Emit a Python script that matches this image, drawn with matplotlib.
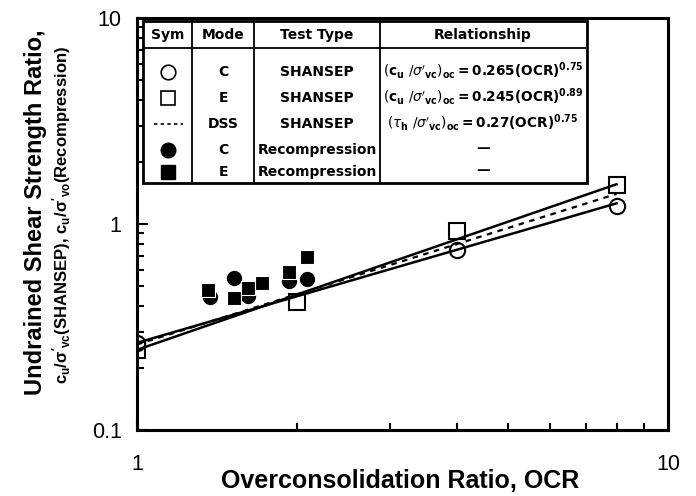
"""
Undrained shear strength ratio vs OCR (SHANSEP / Recompression)
"""
import matplotlib
matplotlib.use("Agg")
import matplotlib.pyplot as plt
from matplotlib.ticker import LogLocator, NullFormatter
from matplotlib.patches import Rectangle

plt.rcParams['font.family'] = ['Liberation Sans', 'DejaVu Sans']
plt.rcParams['mathtext.rm'] = 'Liberation Sans:bold'
plt.rcParams['mathtext.it'] = 'Liberation Sans:bold'
plt.rcParams['mathtext.bf'] = 'Liberation Sans:bold'

# SHANSEP lines (end points)
line_ocr = [1, 8]
line_c = [0.265, 1.26]
line_e = [0.245, 1.56]
line_dss = [0.26, 1.40]

# SHANSEP test points
shansep_c_ocr = [1, 4, 8]
shansep_c = [0.265, 0.748, 1.22]
shansep_e_ocr = [1, 2, 4, 8]
shansep_e = [0.245, 0.418, 0.925, 1.55]

# Recompression test points
recomp_c_ocr = [1.37, 1.52, 1.62, 1.93, 2.09]
recomp_c = [0.442, 0.547, 0.447, 0.53, 0.541]
recomp_e_ocr = [1.36, 1.52, 1.62, 1.72, 1.93, 2.09]
recomp_e = [0.479, 0.437, 0.489, 0.517, 0.585, 0.692]

# legend table rows
table_header = ['Sym', 'Mode', 'Test Type', 'Relationship']
table_mode = ['C', 'E', 'DSS', 'C', 'E']
table_type = ['SHANSEP', 'SHANSEP', 'SHANSEP', 'Recompression', 'Recompression']
table_rel = [
    r"$(\mathbf{c_u}\ /\sigma\mathbf{'}_{\mathbf{vc}})_{\mathbf{oc}}\mathbf{=0.265(OCR)^{0.75}}$",
    r"$(\mathbf{c_u}\ /\sigma\mathbf{'}_{\mathbf{vc}})_{\mathbf{oc}}\mathbf{=0.245(OCR)^{0.89}}$",
    r"$(\tau_{\mathbf{h}}\ /\sigma\mathbf{'}_{\mathbf{vc}})_{\mathbf{oc}}\mathbf{=0.27(OCR)^{0.75}}$",
    '—', '—',
]

W, H = 696, 496
fig = plt.figure(figsize=(W / 100, H / 100), dpi=100)
ax = fig.add_axes([137 / W, 1 - 430 / H, (668 - 137) / W, (430 - 18) / H])

# lines
ax.plot(line_ocr, line_c, color='black', lw=1.8, zorder=2)
ax.plot(line_ocr, line_e, color='black', lw=1.8, zorder=2)
ax.plot(line_ocr, line_dss, color='black', lw=1.6, ls=(0, (2.5, 2.5)), zorder=2)

# points
ax.plot(shansep_c_ocr, shansep_c, 'o', ms=11, mfc='none', mec='black', mew=1.5, zorder=3)
ax.plot(shansep_e_ocr, shansep_e, 's', ms=11, mfc='none', mec='black', mew=1.5, zorder=3)
ax.plot(recomp_c_ocr, recomp_c, 'o', ms=10, mfc='black', mec='black', zorder=4)
ax.plot(recomp_e_ocr, recomp_e, 's', ms=9.5, mfc='black', mec='white', mew=0.8, zorder=5)

ax.set_xscale('log')
ax.set_yscale('log')
ax.set_xlim(1, 10)
ax.set_ylim(0.1, 10)
ax.set_xticks([1, 10], labels=['1', '10'])
ax.set_yticks([0.1, 1, 10], labels=['0.1', '1', '10'])
ax.xaxis.set_minor_locator(LogLocator(base=10, subs=range(2, 10)))
ax.yaxis.set_minor_locator(LogLocator(base=10, subs=range(2, 10)))
ax.xaxis.set_minor_formatter(NullFormatter())
ax.yaxis.set_minor_formatter(NullFormatter())
ax.tick_params(which='both', direction='in', top=False, right=False, width=1.5)
ax.tick_params(which='major', length=8, labelsize=15.5)
ax.tick_params(which='minor', length=5)
ax.tick_params(axis='x', which='major', pad=17)
ax.tick_params(axis='y', which='major', pad=11)
for sp in ax.spines.values():
    sp.set_linewidth(2.2)

fig.text(400 / W, 1 - 481 / H, 'Overconsolidation Ratio, OCR', fontsize=18,
         fontweight='bold', ha='center', va='center')

fig.text(36 / W, 1 - 212 / H, 'Undrained Shear Strength Ratio,', rotation=90,
         fontsize=17, fontweight='bold', ha='center', va='center')
fig.text(62 / W, 1 - 215 / H,
         r"$\mathbf{c_u/\sigma'_{vc}}$(SHANSEP), $\mathbf{c_u/\sigma'_{vo}}$(Recompression)",
         rotation=90, fontsize=12, fontweight='bold', ha='center', va='center',
         math_fontfamily='custom')

# legend table drawn in pixel coordinates
tab = fig.add_axes([0, 0, 1, 1], zorder=10)
tab.set_xlim(0, W)
tab.set_ylim(H, 0)
tab.axis('off')
x0, x1, y0, y1 = 143, 587, 21, 183
tab.add_patch(Rectangle((x0, y0), x1 - x0, y1 - y0, facecolor='white',
                        edgecolor='black', lw=2))
for xv in [192, 254, 380]:
    tab.plot([xv, xv], [y0, y1], color='black', lw=1.3)
tab.plot([x0, x1], [48, 48], color='black', lw=1.3)

col_x = [168, 223, 317, 483]
tfont = dict(family='DejaVu Sans', fontweight='bold', ha='center', va='center')
for cx, name in zip(col_x, table_header):
    tab.text(cx, 35, name, fontsize=10, **tfont)

row_y = [72, 98, 124, 150, 172]
tab.plot(168, row_y[0], 'o', ms=10.5, mfc='none', mec='black', mew=1.2)
tab.plot(168, row_y[1], 's', ms=10.5, mfc='none', mec='black', mew=1.2)
tab.plot([154, 183], [row_y[2], row_y[2]], color='black', lw=1.2, ls=(0, (2, 2)))
tab.plot(168, row_y[3], 'o', ms=10.5, mfc='black', mec='black')
tab.plot(168, row_y[4], 's', ms=10, mfc='black', mec='black')
for ry, mode, ttype, rel in zip(row_y, table_mode, table_type, table_rel):
    tab.text(col_x[1], ry, mode, fontsize=10, **tfont)
    tab.text(col_x[2], ry, ttype, fontsize=10, **tfont)
    tab.text(col_x[3], ry - 2, rel, fontsize=9.8, math_fontfamily='dejavusans', **tfont)

fig.savefig('out.png', dpi=100)
